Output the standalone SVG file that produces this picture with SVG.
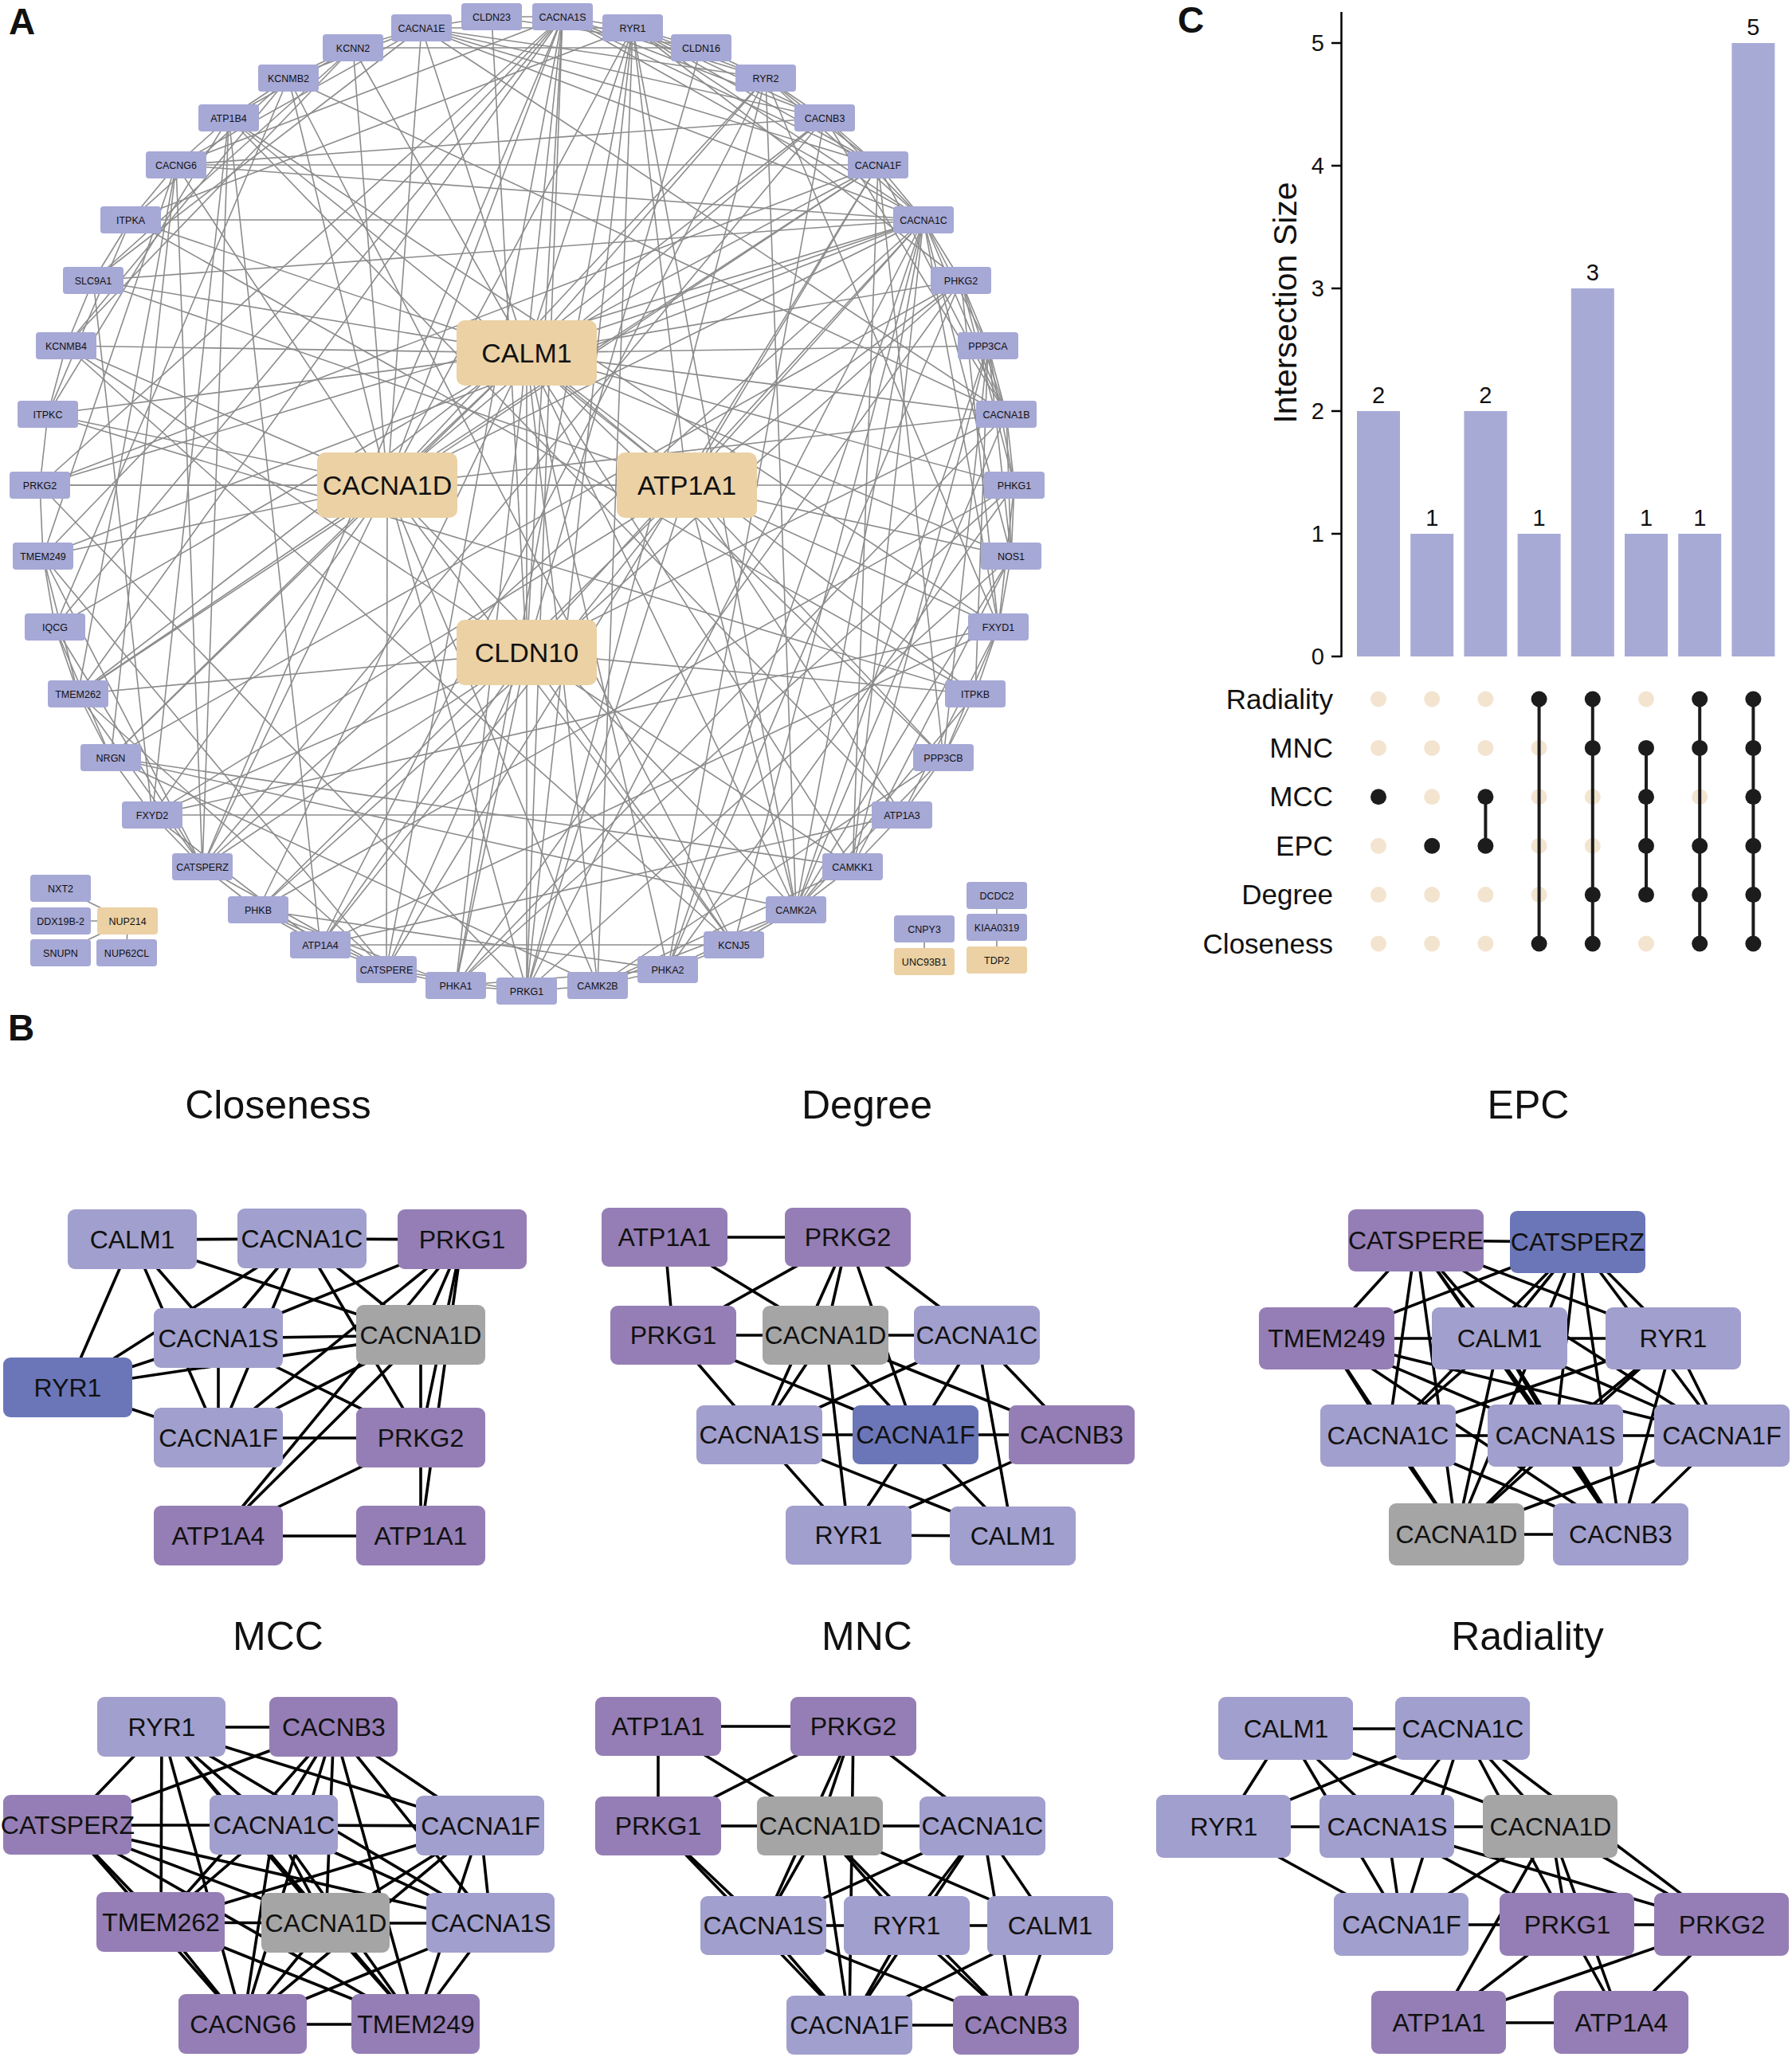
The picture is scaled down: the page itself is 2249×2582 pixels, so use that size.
<svg xmlns="http://www.w3.org/2000/svg" width="2249" height="2582" viewBox="0 0 2249 2582">
<style>
text{font-family:"Liberation Sans",Arial,Helvetica,sans-serif;fill:#111}
.ea line{stroke:#8c8c8c;stroke-width:1.6}
.eb line{stroke:#000;stroke-width:3.6}
.sn rect{fill:#a6a8d6}
.tn rect{fill:#ebd1a4}
.sn text,.tn text{font-size:12.5px;text-anchor:middle}
.bg text{font-size:34px;text-anchor:middle}
.bn text{font-size:32px;text-anchor:middle}
.lp{fill:#a19fcd}.pp{fill:#957eb5}.db{fill:#6b76b8}.gy{fill:#a5a5a5}
.ttl{font-size:50px;text-anchor:middle}
.pl{font-size:46px;font-weight:bold}
.tick{font-size:29px;text-anchor:end}
.val{font-size:29px;text-anchor:middle}
.row{font-size:35px;text-anchor:end}
.bar{fill:#a8aad6}
.ld{fill:#f3e4d0}.dd{fill:#1c1c1c}
.ml{stroke:#1c1c1c;stroke-width:4}
</style>
<rect width="2249" height="2582" fill="#fff"/>
<text class="pl" x="11" y="43">A</text>
<text class="pl" x="10" y="1306">B</text>
<text class="pl" x="1478" y="41">C</text>

<!-- Panel A connectors -->
<g id="connectors-A" class="ea">
<line x1="661" y1="443" x2="706" y2="21"/><line x1="661" y1="443" x2="794" y2="35"/><line x1="661" y1="443" x2="961" y2="98"/><line x1="661" y1="443" x2="1102" y2="207"/><line x1="661" y1="443" x2="1159" y2="276"/><line x1="661" y1="443" x2="1206" y2="352"/><line x1="661" y1="443" x2="1240" y2="434"/><line x1="661" y1="443" x2="1263" y2="520"/><line x1="661" y1="443" x2="1273" y2="609"/><line x1="661" y1="443" x2="1269" y2="698"/><line x1="661" y1="443" x2="1224" y2="871"/><line x1="661" y1="443" x2="1184" y2="951"/><line x1="661" y1="443" x2="1070" y2="1088"/><line x1="661" y1="443" x2="999" y2="1142"/><line x1="661" y1="443" x2="750" y2="1237"/><line x1="661" y1="443" x2="838" y2="1217"/><line x1="661" y1="443" x2="572" y2="1237"/><line x1="661" y1="443" x2="324" y2="1142"/><line x1="661" y1="443" x2="139" y2="951"/><line x1="661" y1="443" x2="69" y2="787"/><line x1="661" y1="443" x2="60" y2="520"/><line x1="661" y1="443" x2="164" y2="276"/><line x1="661" y1="443" x2="443" y2="60"/><line x1="661" y1="443" x2="529" y2="35"/><line x1="661" y1="443" x2="83" y2="434"/><line x1="661" y1="443" x2="117" y2="352"/><line x1="661" y1="443" x2="661" y2="1244"/><line x1="661" y1="443" x2="486" y2="609"/>
<line x1="486" y1="609" x2="706" y2="21"/><line x1="486" y1="609" x2="1102" y2="207"/><line x1="486" y1="609" x2="1159" y2="276"/><line x1="486" y1="609" x2="529" y2="35"/><line x1="486" y1="609" x2="1263" y2="520"/><line x1="486" y1="609" x2="1035" y2="148"/><line x1="486" y1="609" x2="221" y2="207"/><line x1="486" y1="609" x2="794" y2="35"/><line x1="486" y1="609" x2="961" y2="98"/><line x1="486" y1="609" x2="661" y2="1244"/><line x1="486" y1="609" x2="50" y2="609"/><line x1="486" y1="609" x2="485" y2="1217"/><line x1="486" y1="609" x2="254" y2="1088"/><line x1="486" y1="609" x2="54" y2="698"/><line x1="486" y1="609" x2="98" y2="871"/><line x1="486" y1="609" x2="443" y2="60"/><line x1="486" y1="609" x2="362" y2="98"/><line x1="486" y1="609" x2="83" y2="434"/><line x1="486" y1="609" x2="862" y2="609"/><line x1="486" y1="609" x2="999" y2="1142"/><line x1="486" y1="609" x2="750" y2="1237"/><line x1="486" y1="609" x2="191" y2="1023"/><line x1="486" y1="609" x2="60" y2="520"/><line x1="486" y1="609" x2="139" y2="951"/><line x1="486" y1="609" x2="921" y2="1186"/>
<line x1="862" y1="609" x2="1132" y2="1023"/><line x1="862" y1="609" x2="402" y2="1186"/><line x1="862" y1="609" x2="287" y2="148"/><line x1="862" y1="609" x2="1253" y2="787"/><line x1="862" y1="609" x2="191" y2="1023"/><line x1="862" y1="609" x2="117" y2="352"/><line x1="862" y1="609" x2="661" y2="443"/><line x1="862" y1="609" x2="1206" y2="352"/><line x1="862" y1="609" x2="1159" y2="276"/><line x1="862" y1="609" x2="1102" y2="207"/><line x1="862" y1="609" x2="794" y2="35"/><line x1="862" y1="609" x2="999" y2="1142"/><line x1="862" y1="609" x2="661" y2="1244"/><line x1="862" y1="609" x2="1269" y2="698"/><line x1="862" y1="609" x2="324" y2="1142"/><line x1="862" y1="609" x2="1184" y2="951"/>
<line x1="661" y1="819" x2="880" y2="60"/><line x1="661" y1="819" x2="617" y2="21"/><line x1="661" y1="819" x2="706" y2="21"/><line x1="661" y1="819" x2="1159" y2="276"/><line x1="661" y1="819" x2="191" y2="1023"/><line x1="661" y1="819" x2="402" y2="1186"/><line x1="661" y1="819" x2="572" y2="1237"/><line x1="661" y1="819" x2="921" y2="1186"/><line x1="661" y1="819" x2="1070" y2="1088"/><line x1="661" y1="819" x2="98" y2="871"/><line x1="661" y1="819" x2="485" y2="1217"/><line x1="661" y1="819" x2="1224" y2="871"/><line x1="661" y1="819" x2="254" y2="1088"/><line x1="661" y1="819" x2="83" y2="434"/><line x1="661" y1="819" x2="1263" y2="520"/>
<line x1="706" y1="21" x2="617" y2="21"/><line x1="706" y1="21" x2="794" y2="35"/><line x1="706" y1="21" x2="1102" y2="207"/><line x1="706" y1="21" x2="1159" y2="276"/><line x1="706" y1="21" x2="1035" y2="148"/><line x1="706" y1="21" x2="221" y2="207"/><line x1="706" y1="21" x2="961" y2="98"/><line x1="706" y1="21" x2="661" y2="1244"/><line x1="706" y1="21" x2="50" y2="609"/><line x1="706" y1="21" x2="485" y2="1217"/><line x1="706" y1="21" x2="254" y2="1088"/><line x1="706" y1="21" x2="54" y2="698"/><line x1="706" y1="21" x2="98" y2="871"/><line x1="706" y1="21" x2="69" y2="787"/>
<line x1="794" y1="35" x2="880" y2="60"/><line x1="794" y1="35" x2="961" y2="98"/><line x1="794" y1="35" x2="1035" y2="148"/><line x1="794" y1="35" x2="1102" y2="207"/><line x1="794" y1="35" x2="1159" y2="276"/><line x1="794" y1="35" x2="661" y2="1244"/><line x1="794" y1="35" x2="1206" y2="352"/><line x1="794" y1="35" x2="999" y2="1142"/><line x1="794" y1="35" x2="750" y2="1237"/><line x1="794" y1="35" x2="572" y2="1237"/><line x1="794" y1="35" x2="529" y2="35"/><line x1="794" y1="35" x2="164" y2="276"/>
<line x1="961" y1="98" x2="1035" y2="148"/><line x1="961" y1="98" x2="1102" y2="207"/><line x1="961" y1="98" x2="1159" y2="276"/><line x1="961" y1="98" x2="661" y2="1244"/><line x1="961" y1="98" x2="999" y2="1142"/><line x1="961" y1="98" x2="529" y2="35"/><line x1="961" y1="98" x2="1253" y2="787"/><line x1="961" y1="98" x2="880" y2="60"/><line x1="961" y1="98" x2="402" y2="1186"/>
<line x1="1035" y1="148" x2="1102" y2="207"/><line x1="1035" y1="148" x2="1159" y2="276"/><line x1="1035" y1="148" x2="1263" y2="520"/><line x1="1035" y1="148" x2="529" y2="35"/><line x1="1035" y1="148" x2="221" y2="207"/><line x1="1035" y1="148" x2="838" y2="1217"/><line x1="1035" y1="148" x2="98" y2="871"/><line x1="1035" y1="148" x2="254" y2="1088"/>
<line x1="1102" y1="207" x2="1159" y2="276"/><line x1="1102" y1="207" x2="1263" y2="520"/><line x1="1102" y1="207" x2="221" y2="207"/><line x1="1102" y1="207" x2="529" y2="35"/><line x1="1102" y1="207" x2="50" y2="609"/><line x1="1102" y1="207" x2="98" y2="871"/><line x1="1102" y1="207" x2="1070" y2="1088"/><line x1="1102" y1="207" x2="485" y2="1217"/><line x1="1102" y1="207" x2="1184" y2="951"/>
<line x1="1159" y1="276" x2="1263" y2="520"/><line x1="1159" y1="276" x2="1206" y2="352"/><line x1="1159" y1="276" x2="1240" y2="434"/><line x1="1159" y1="276" x2="529" y2="35"/><line x1="1159" y1="276" x2="221" y2="207"/><line x1="1159" y1="276" x2="661" y2="1244"/><line x1="1159" y1="276" x2="50" y2="609"/><line x1="1159" y1="276" x2="1269" y2="698"/><line x1="1159" y1="276" x2="1070" y2="1088"/><line x1="1159" y1="276" x2="999" y2="1142"/><line x1="1159" y1="276" x2="921" y2="1186"/><line x1="1159" y1="276" x2="117" y2="352"/><line x1="1159" y1="276" x2="164" y2="276"/><line x1="1159" y1="276" x2="54" y2="698"/><line x1="1159" y1="276" x2="254" y2="1088"/><line x1="1159" y1="276" x2="1253" y2="787"/><line x1="1159" y1="276" x2="838" y2="1217"/>
<line x1="1206" y1="352" x2="1240" y2="434"/><line x1="1206" y1="352" x2="1273" y2="609"/><line x1="1206" y1="352" x2="324" y2="1142"/><line x1="1206" y1="352" x2="572" y2="1237"/><line x1="1206" y1="352" x2="838" y2="1217"/><line x1="1206" y1="352" x2="1253" y2="787"/><line x1="1206" y1="352" x2="1263" y2="520"/><line x1="1206" y1="352" x2="139" y2="951"/>
<line x1="1240" y1="434" x2="1263" y2="520"/><line x1="1240" y1="434" x2="1184" y2="951"/><line x1="1240" y1="434" x2="1269" y2="698"/><line x1="1240" y1="434" x2="999" y2="1142"/><line x1="1240" y1="434" x2="1224" y2="871"/><line x1="1240" y1="434" x2="1273" y2="609"/><line x1="1240" y1="434" x2="1070" y2="1088"/>
<line x1="1263" y1="520" x2="1273" y2="609"/><line x1="1263" y1="520" x2="1269" y2="698"/><line x1="1263" y1="520" x2="999" y2="1142"/><line x1="1263" y1="520" x2="529" y2="35"/><line x1="1263" y1="520" x2="362" y2="98"/><line x1="1263" y1="520" x2="572" y2="1237"/>
<line x1="1273" y1="609" x2="1269" y2="698"/><line x1="1273" y1="609" x2="324" y2="1142"/><line x1="1273" y1="609" x2="572" y2="1237"/><line x1="1273" y1="609" x2="838" y2="1217"/><line x1="1273" y1="609" x2="1253" y2="787"/>
<line x1="1269" y1="698" x2="1253" y2="787"/><line x1="1269" y1="698" x2="999" y2="1142"/><line x1="1269" y1="698" x2="661" y2="1244"/><line x1="1269" y1="698" x2="1070" y2="1088"/>
<line x1="1253" y1="787" x2="1224" y2="871"/><line x1="1253" y1="787" x2="1132" y2="1023"/><line x1="1253" y1="787" x2="402" y2="1186"/><line x1="1253" y1="787" x2="287" y2="148"/><line x1="1253" y1="787" x2="191" y2="1023"/><line x1="1253" y1="787" x2="1184" y2="951"/>
<line x1="1224" y1="871" x2="1184" y2="951"/><line x1="1224" y1="871" x2="164" y2="276"/><line x1="1224" y1="871" x2="60" y2="520"/><line x1="1224" y1="871" x2="999" y2="1142"/>
<line x1="1184" y1="951" x2="1132" y2="1023"/><line x1="1184" y1="951" x2="999" y2="1142"/><line x1="1184" y1="951" x2="750" y2="1237"/>
<line x1="1132" y1="1023" x2="1070" y2="1088"/><line x1="1132" y1="1023" x2="402" y2="1186"/><line x1="1132" y1="1023" x2="287" y2="148"/><line x1="1132" y1="1023" x2="191" y2="1023"/>
<line x1="1070" y1="1088" x2="999" y2="1142"/><line x1="1070" y1="1088" x2="750" y2="1237"/><line x1="1070" y1="1088" x2="139" y2="951"/>
<line x1="999" y1="1142" x2="921" y2="1186"/><line x1="999" y1="1142" x2="750" y2="1237"/><line x1="999" y1="1142" x2="139" y2="951"/><line x1="999" y1="1142" x2="838" y2="1217"/>
<line x1="921" y1="1186" x2="838" y2="1217"/><line x1="921" y1="1186" x2="83" y2="434"/><line x1="921" y1="1186" x2="362" y2="98"/><line x1="921" y1="1186" x2="402" y2="1186"/>
<line x1="838" y1="1217" x2="750" y2="1237"/><line x1="838" y1="1217" x2="324" y2="1142"/><line x1="838" y1="1217" x2="572" y2="1237"/>
<line x1="750" y1="1237" x2="661" y2="1244"/><line x1="750" y1="1237" x2="139" y2="951"/>
<line x1="661" y1="1244" x2="572" y2="1237"/><line x1="661" y1="1244" x2="485" y2="1217"/><line x1="661" y1="1244" x2="50" y2="609"/>
<line x1="572" y1="1237" x2="485" y2="1217"/><line x1="572" y1="1237" x2="324" y2="1142"/>
<line x1="485" y1="1217" x2="402" y2="1186"/><line x1="485" y1="1217" x2="254" y2="1088"/><line x1="485" y1="1217" x2="54" y2="698"/><line x1="485" y1="1217" x2="98" y2="871"/><line x1="485" y1="1217" x2="324" y2="1142"/>
<line x1="402" y1="1186" x2="324" y2="1142"/><line x1="402" y1="1186" x2="191" y2="1023"/><line x1="402" y1="1186" x2="287" y2="148"/>
<line x1="324" y1="1142" x2="254" y2="1088"/>
<line x1="254" y1="1088" x2="191" y2="1023"/><line x1="254" y1="1088" x2="98" y2="871"/><line x1="254" y1="1088" x2="54" y2="698"/><line x1="254" y1="1088" x2="69" y2="787"/><line x1="254" y1="1088" x2="221" y2="207"/><line x1="254" y1="1088" x2="287" y2="148"/>
<line x1="191" y1="1023" x2="139" y2="951"/><line x1="191" y1="1023" x2="287" y2="148"/><line x1="191" y1="1023" x2="117" y2="352"/>
<line x1="139" y1="951" x2="98" y2="871"/><line x1="139" y1="951" x2="69" y2="787"/><line x1="139" y1="951" x2="221" y2="207"/>
<line x1="98" y1="871" x2="69" y2="787"/><line x1="98" y1="871" x2="54" y2="698"/><line x1="98" y1="871" x2="221" y2="207"/>
<line x1="69" y1="787" x2="54" y2="698"/><line x1="69" y1="787" x2="362" y2="98"/>
<line x1="54" y1="698" x2="50" y2="609"/><line x1="54" y1="698" x2="221" y2="207"/>
<line x1="50" y1="609" x2="60" y2="520"/><line x1="50" y1="609" x2="1273" y2="609"/>
<line x1="60" y1="520" x2="83" y2="434"/><line x1="60" y1="520" x2="164" y2="276"/><line x1="60" y1="520" x2="287" y2="148"/>
<line x1="83" y1="434" x2="117" y2="352"/><line x1="83" y1="434" x2="362" y2="98"/><line x1="83" y1="434" x2="443" y2="60"/>
<line x1="117" y1="352" x2="164" y2="276"/><line x1="117" y1="352" x2="443" y2="60"/><line x1="117" y1="352" x2="529" y2="35"/>
<line x1="164" y1="276" x2="221" y2="207"/><line x1="164" y1="276" x2="362" y2="98"/>
<line x1="221" y1="207" x2="287" y2="148"/><line x1="221" y1="207" x2="529" y2="35"/>
<line x1="287" y1="148" x2="362" y2="98"/><line x1="287" y1="148" x2="443" y2="60"/>
<line x1="362" y1="98" x2="443" y2="60"/><line x1="362" y1="98" x2="529" y2="35"/>
<line x1="443" y1="60" x2="529" y2="35"/><line x1="443" y1="60" x2="880" y2="60"/>
<line x1="617" y1="21" x2="880" y2="60"/><line x1="617" y1="21" x2="529" y2="35"/>
<line x1="160" y1="1156" x2="76" y2="1115"/><line x1="160" y1="1156" x2="76" y2="1156"/><line x1="160" y1="1156" x2="76" y2="1196"/><line x1="160" y1="1156" x2="159" y2="1196"/>
<line x1="1251" y1="1124" x2="1251" y2="1164"/><line x1="1251" y1="1164" x2="1251" y2="1205"/><line x1="1160" y1="1166" x2="1160" y2="1207"/>
</g>

<!-- Panel A nodes -->
<g id="A-nodes">
<g id="a-CLDN23" class="sn"><rect x="579" y="4" width="76" height="34" rx="4"/><text x="617" y="25.5">CLDN23</text></g>
<g id="a-CACNA1S" class="sn"><rect x="668" y="4" width="76" height="34" rx="4"/><text x="706" y="25.5">CACNA1S</text></g>
<g id="a-RYR1" class="sn"><rect x="756" y="18" width="76" height="34" rx="4"/><text x="794" y="39.5">RYR1</text></g>
<g id="a-CLDN16" class="sn"><rect x="842" y="43" width="76" height="34" rx="4"/><text x="880" y="64.5">CLDN16</text></g>
<g id="a-RYR2" class="sn"><rect x="923" y="81" width="76" height="34" rx="4"/><text x="961" y="102.5">RYR2</text></g>
<g id="a-CACNB3" class="sn"><rect x="997" y="131" width="76" height="34" rx="4"/><text x="1035" y="152.5">CACNB3</text></g>
<g id="a-CACNA1F" class="sn"><rect x="1064" y="190" width="76" height="34" rx="4"/><text x="1102" y="211.5">CACNA1F</text></g>
<g id="a-CACNA1C" class="sn"><rect x="1121" y="259" width="76" height="34" rx="4"/><text x="1159" y="280.5">CACNA1C</text></g>
<g id="a-PHKG2" class="sn"><rect x="1168" y="335" width="76" height="34" rx="4"/><text x="1206" y="356.5">PHKG2</text></g>
<g id="a-PPP3CA" class="sn"><rect x="1202" y="417" width="76" height="34" rx="4"/><text x="1240" y="438.5">PPP3CA</text></g>
<g id="a-CACNA1B" class="sn"><rect x="1225" y="503" width="76" height="34" rx="4"/><text x="1263" y="524.5">CACNA1B</text></g>
<g id="a-PHKG1" class="sn"><rect x="1235" y="592" width="76" height="34" rx="4"/><text x="1273" y="613.5">PHKG1</text></g>
<g id="a-NOS1" class="sn"><rect x="1231" y="681" width="76" height="34" rx="4"/><text x="1269" y="702.5">NOS1</text></g>
<g id="a-FXYD1" class="sn"><rect x="1215" y="770" width="76" height="34" rx="4"/><text x="1253" y="791.5">FXYD1</text></g>
<g id="a-ITPKB" class="sn"><rect x="1186" y="854" width="76" height="34" rx="4"/><text x="1224" y="875.5">ITPKB</text></g>
<g id="a-PPP3CB" class="sn"><rect x="1146" y="934" width="76" height="34" rx="4"/><text x="1184" y="955.5">PPP3CB</text></g>
<g id="a-ATP1A3" class="sn"><rect x="1094" y="1006" width="76" height="34" rx="4"/><text x="1132" y="1027.5">ATP1A3</text></g>
<g id="a-CAMKK1" class="sn"><rect x="1032" y="1071" width="76" height="34" rx="4"/><text x="1070" y="1092.5">CAMKK1</text></g>
<g id="a-CAMK2A" class="sn"><rect x="961" y="1125" width="76" height="34" rx="4"/><text x="999" y="1146.5">CAMK2A</text></g>
<g id="a-KCNJ5" class="sn"><rect x="883" y="1169" width="76" height="34" rx="4"/><text x="921" y="1190.5">KCNJ5</text></g>
<g id="a-PHKA2" class="sn"><rect x="800" y="1200" width="76" height="34" rx="4"/><text x="838" y="1221.5">PHKA2</text></g>
<g id="a-CAMK2B" class="sn"><rect x="712" y="1220" width="76" height="34" rx="4"/><text x="750" y="1241.5">CAMK2B</text></g>
<g id="a-PRKG1" class="sn"><rect x="623" y="1227" width="76" height="34" rx="4"/><text x="661" y="1248.5">PRKG1</text></g>
<g id="a-PHKA1" class="sn"><rect x="534" y="1220" width="76" height="34" rx="4"/><text x="572" y="1241.5">PHKA1</text></g>
<g id="a-CATSPERE" class="sn"><rect x="447" y="1200" width="76" height="34" rx="4"/><text x="485" y="1221.5">CATSPERE</text></g>
<g id="a-ATP1A4" class="sn"><rect x="364" y="1169" width="76" height="34" rx="4"/><text x="402" y="1190.5">ATP1A4</text></g>
<g id="a-PHKB" class="sn"><rect x="286" y="1125" width="76" height="34" rx="4"/><text x="324" y="1146.5">PHKB</text></g>
<g id="a-CATSPERZ" class="sn"><rect x="216" y="1071" width="76" height="34" rx="4"/><text x="254" y="1092.5">CATSPERZ</text></g>
<g id="a-FXYD2" class="sn"><rect x="153" y="1006" width="76" height="34" rx="4"/><text x="191" y="1027.5">FXYD2</text></g>
<g id="a-NRGN" class="sn"><rect x="101" y="934" width="76" height="34" rx="4"/><text x="139" y="955.5">NRGN</text></g>
<g id="a-TMEM262" class="sn"><rect x="60" y="854" width="76" height="34" rx="4"/><text x="98" y="875.5">TMEM262</text></g>
<g id="a-IQCG" class="sn"><rect x="31" y="770" width="76" height="34" rx="4"/><text x="69" y="791.5">IQCG</text></g>
<g id="a-TMEM249" class="sn"><rect x="16" y="681" width="76" height="34" rx="4"/><text x="54" y="702.5">TMEM249</text></g>
<g id="a-PRKG2" class="sn"><rect x="12" y="592" width="76" height="34" rx="4"/><text x="50" y="613.5">PRKG2</text></g>
<g id="a-ITPKC" class="sn"><rect x="22" y="503" width="76" height="34" rx="4"/><text x="60" y="524.5">ITPKC</text></g>
<g id="a-KCNMB4" class="sn"><rect x="45" y="417" width="76" height="34" rx="4"/><text x="83" y="438.5">KCNMB4</text></g>
<g id="a-SLC9A1" class="sn"><rect x="79" y="335" width="76" height="34" rx="4"/><text x="117" y="356.5">SLC9A1</text></g>
<g id="a-ITPKA" class="sn"><rect x="126" y="259" width="76" height="34" rx="4"/><text x="164" y="280.5">ITPKA</text></g>
<g id="a-CACNG6" class="sn"><rect x="183" y="190" width="76" height="34" rx="4"/><text x="221" y="211.5">CACNG6</text></g>
<g id="a-ATP1B4" class="sn"><rect x="249" y="131" width="76" height="34" rx="4"/><text x="287" y="152.5">ATP1B4</text></g>
<g id="a-KCNMB2" class="sn"><rect x="324" y="81" width="76" height="34" rx="4"/><text x="362" y="102.5">KCNMB2</text></g>
<g id="a-KCNN2" class="sn"><rect x="405" y="43" width="76" height="34" rx="4"/><text x="443" y="64.5">KCNN2</text></g>
<g id="a-CACNA1E" class="sn"><rect x="491" y="18" width="76" height="34" rx="4"/><text x="529" y="39.5">CACNA1E</text></g>
<g id="a-CALM1" class="tn bg"><rect x="573" y="402" width="176" height="82" rx="10"/><text x="661" y="455">CALM1</text></g>
<g id="a-CACNA1D" class="tn bg"><rect x="398" y="568" width="176" height="82" rx="10"/><text x="486" y="621">CACNA1D</text></g>
<g id="a-ATP1A1" class="tn bg"><rect x="774" y="568" width="176" height="82" rx="10"/><text x="862" y="621">ATP1A1</text></g>
<g id="a-CLDN10" class="tn bg"><rect x="573" y="778" width="176" height="82" rx="10"/><text x="661" y="831">CLDN10</text></g>
<g id="a-NXT2" class="sn"><rect x="38" y="1098" width="76" height="34" rx="4"/><text x="76" y="1119.5">NXT2</text></g>
<g id="a-DDX19B-2" class="sn"><rect x="38" y="1139" width="76" height="34" rx="4"/><text x="76" y="1160.5">DDX19B-2</text></g>
<g id="a-NUP214" class="tn"><rect x="122" y="1139" width="76" height="34" rx="4"/><text x="160" y="1160.5">NUP214</text></g>
<g id="a-SNUPN" class="sn"><rect x="38" y="1179" width="76" height="34" rx="4"/><text x="76" y="1200.5">SNUPN</text></g>
<g id="a-NUP62CL" class="sn"><rect x="121" y="1179" width="76" height="34" rx="4"/><text x="159" y="1200.5">NUP62CL</text></g>
<g id="a-DCDC2" class="sn"><rect x="1213" y="1107" width="76" height="34" rx="4"/><text x="1251" y="1128.5">DCDC2</text></g>
<g id="a-KIAA0319" class="sn"><rect x="1213" y="1147" width="76" height="34" rx="4"/><text x="1251" y="1168.5">KIAA0319</text></g>
<g id="a-TDP2" class="tn"><rect x="1213" y="1188" width="76" height="34" rx="4"/><text x="1251" y="1209.5">TDP2</text></g>
<g id="a-CNPY3" class="sn"><rect x="1122" y="1149" width="76" height="34" rx="4"/><text x="1160" y="1170.5">CNPY3</text></g>
<g id="a-UNC93B1" class="tn"><rect x="1122" y="1190" width="76" height="34" rx="4"/><text x="1160" y="1211.5">UNC93B1</text></g>
</g>

<!-- Panel B titles -->
<text class="ttl" x="349" y="1404">Closeness</text>
<text class="ttl" x="1088" y="1404">Degree</text>
<text class="ttl" x="1918" y="1404">EPC</text>
<text class="ttl" x="349" y="2071">MCC</text>
<text class="ttl" x="1088" y="2071">MNC</text>
<text class="ttl" x="1917" y="2071">Radiality</text>

<!-- Panel B connectors -->
<g id="connectors-B" class="eb">
<line x1="166" y1="1556" x2="379" y2="1555"/><line x1="379" y1="1555" x2="580" y2="1556"/><line x1="166" y1="1556" x2="85" y2="1742"/><line x1="166" y1="1556" x2="274" y2="1680"/><line x1="166" y1="1556" x2="274" y2="1805"/><line x1="166" y1="1556" x2="528" y2="1676"/><line x1="379" y1="1555" x2="85" y2="1742"/><line x1="379" y1="1555" x2="274" y2="1680"/><line x1="379" y1="1555" x2="274" y2="1805"/><line x1="379" y1="1555" x2="528" y2="1676"/><line x1="379" y1="1555" x2="528" y2="1805"/><line x1="580" y1="1556" x2="274" y2="1680"/><line x1="580" y1="1556" x2="528" y2="1676"/><line x1="580" y1="1556" x2="274" y2="1805"/><line x1="580" y1="1556" x2="528" y2="1805"/><line x1="580" y1="1556" x2="528" y2="1928"/><line x1="580" y1="1556" x2="274" y2="1928"/><line x1="274" y1="1680" x2="528" y2="1676"/><line x1="274" y1="1680" x2="274" y2="1805"/><line x1="274" y1="1680" x2="85" y2="1742"/><line x1="274" y1="1680" x2="528" y2="1805"/><line x1="85" y1="1742" x2="528" y2="1676"/><line x1="85" y1="1742" x2="274" y2="1805"/><line x1="528" y1="1676" x2="274" y2="1805"/><line x1="528" y1="1676" x2="528" y2="1805"/><line x1="274" y1="1805" x2="528" y2="1805"/><line x1="528" y1="1676" x2="274" y2="1928"/><line x1="274" y1="1928" x2="528" y2="1805"/><line x1="274" y1="1928" x2="528" y2="1928"/><line x1="528" y1="1805" x2="528" y2="1928"/>
<line x1="834" y1="1553" x2="1064" y2="1553"/><line x1="834" y1="1553" x2="845" y2="1676"/><line x1="834" y1="1553" x2="1036" y2="1676"/><line x1="1064" y1="1553" x2="845" y2="1676"/><line x1="1064" y1="1553" x2="953" y2="1801"/><line x1="1064" y1="1553" x2="1036" y2="1676"/><line x1="1064" y1="1553" x2="1149" y2="1801"/><line x1="1064" y1="1553" x2="1226" y2="1676"/><line x1="845" y1="1676" x2="1036" y2="1676"/><line x1="1036" y1="1676" x2="1226" y2="1676"/><line x1="845" y1="1676" x2="953" y2="1801"/><line x1="845" y1="1676" x2="1149" y2="1801"/><line x1="1036" y1="1676" x2="1345" y2="1801"/><line x1="1036" y1="1676" x2="953" y2="1801"/><line x1="1036" y1="1676" x2="1149" y2="1801"/><line x1="1036" y1="1676" x2="1065" y2="1927"/><line x1="1226" y1="1676" x2="953" y2="1801"/><line x1="1226" y1="1676" x2="1149" y2="1801"/><line x1="1226" y1="1676" x2="1271" y2="1928"/><line x1="1226" y1="1676" x2="1345" y2="1801"/><line x1="953" y1="1801" x2="1149" y2="1801"/><line x1="1149" y1="1801" x2="1345" y2="1801"/><line x1="953" y1="1801" x2="1065" y2="1927"/><line x1="953" y1="1801" x2="1271" y2="1928"/><line x1="1149" y1="1801" x2="1065" y2="1927"/><line x1="1149" y1="1801" x2="1271" y2="1928"/><line x1="1345" y1="1801" x2="1065" y2="1927"/><line x1="1065" y1="1927" x2="1271" y2="1928"/>
<line x1="1777" y1="1557" x2="1980" y2="1559"/><line x1="1777" y1="1557" x2="1665" y2="1680"/><line x1="1777" y1="1557" x2="1882" y2="1680"/><line x1="1777" y1="1557" x2="2100" y2="1680"/><line x1="1777" y1="1557" x2="1742" y2="1802"/><line x1="1777" y1="1557" x2="1952" y2="1802"/><line x1="1777" y1="1557" x2="2161" y2="1802"/><line x1="1777" y1="1557" x2="1828" y2="1926"/><line x1="1777" y1="1557" x2="2034" y2="1926"/><line x1="1980" y1="1559" x2="1665" y2="1680"/><line x1="1980" y1="1559" x2="1882" y2="1680"/><line x1="1980" y1="1559" x2="2100" y2="1680"/><line x1="1980" y1="1559" x2="1742" y2="1802"/><line x1="1980" y1="1559" x2="1952" y2="1802"/><line x1="1980" y1="1559" x2="2161" y2="1802"/><line x1="1980" y1="1559" x2="1828" y2="1926"/><line x1="1980" y1="1559" x2="2034" y2="1926"/><line x1="1665" y1="1680" x2="1882" y2="1680"/><line x1="1665" y1="1680" x2="1742" y2="1802"/><line x1="1665" y1="1680" x2="1952" y2="1802"/><line x1="1665" y1="1680" x2="2161" y2="1802"/><line x1="1665" y1="1680" x2="1828" y2="1926"/><line x1="1665" y1="1680" x2="2034" y2="1926"/><line x1="1882" y1="1680" x2="2100" y2="1680"/><line x1="1882" y1="1680" x2="1742" y2="1802"/><line x1="1882" y1="1680" x2="1952" y2="1802"/><line x1="1882" y1="1680" x2="2161" y2="1802"/><line x1="1882" y1="1680" x2="1828" y2="1926"/><line x1="1882" y1="1680" x2="2034" y2="1926"/><line x1="2100" y1="1680" x2="1742" y2="1802"/><line x1="2100" y1="1680" x2="1952" y2="1802"/><line x1="2100" y1="1680" x2="2161" y2="1802"/><line x1="2100" y1="1680" x2="1828" y2="1926"/><line x1="2100" y1="1680" x2="2034" y2="1926"/><line x1="1742" y1="1802" x2="1952" y2="1802"/><line x1="1742" y1="1802" x2="1828" y2="1926"/><line x1="1742" y1="1802" x2="2034" y2="1926"/><line x1="1952" y1="1802" x2="2161" y2="1802"/><line x1="1952" y1="1802" x2="1828" y2="1926"/><line x1="1952" y1="1802" x2="2034" y2="1926"/><line x1="2161" y1="1802" x2="1828" y2="1926"/><line x1="2161" y1="1802" x2="2034" y2="1926"/><line x1="1828" y1="1926" x2="2034" y2="1926"/>
<line x1="203" y1="2168" x2="419" y2="2168"/><line x1="203" y1="2168" x2="85" y2="2291"/><line x1="203" y1="2168" x2="344" y2="2291"/><line x1="203" y1="2168" x2="603" y2="2292"/><line x1="203" y1="2168" x2="202" y2="2413"/><line x1="203" y1="2168" x2="409" y2="2414"/><line x1="203" y1="2168" x2="616" y2="2414"/><line x1="203" y1="2168" x2="305" y2="2541"/><line x1="203" y1="2168" x2="522" y2="2541"/><line x1="419" y1="2168" x2="85" y2="2291"/><line x1="419" y1="2168" x2="344" y2="2291"/><line x1="419" y1="2168" x2="603" y2="2292"/><line x1="419" y1="2168" x2="202" y2="2413"/><line x1="419" y1="2168" x2="409" y2="2414"/><line x1="419" y1="2168" x2="616" y2="2414"/><line x1="419" y1="2168" x2="305" y2="2541"/><line x1="419" y1="2168" x2="522" y2="2541"/><line x1="85" y1="2291" x2="344" y2="2291"/><line x1="85" y1="2291" x2="202" y2="2413"/><line x1="85" y1="2291" x2="409" y2="2414"/><line x1="85" y1="2291" x2="616" y2="2414"/><line x1="85" y1="2291" x2="305" y2="2541"/><line x1="85" y1="2291" x2="522" y2="2541"/><line x1="344" y1="2291" x2="603" y2="2292"/><line x1="344" y1="2291" x2="202" y2="2413"/><line x1="344" y1="2291" x2="409" y2="2414"/><line x1="344" y1="2291" x2="616" y2="2414"/><line x1="344" y1="2291" x2="305" y2="2541"/><line x1="344" y1="2291" x2="522" y2="2541"/><line x1="603" y1="2292" x2="202" y2="2413"/><line x1="603" y1="2292" x2="409" y2="2414"/><line x1="603" y1="2292" x2="616" y2="2414"/><line x1="603" y1="2292" x2="305" y2="2541"/><line x1="603" y1="2292" x2="522" y2="2541"/><line x1="202" y1="2413" x2="409" y2="2414"/><line x1="202" y1="2413" x2="305" y2="2541"/><line x1="202" y1="2413" x2="522" y2="2541"/><line x1="409" y1="2414" x2="616" y2="2414"/><line x1="409" y1="2414" x2="305" y2="2541"/><line x1="409" y1="2414" x2="522" y2="2541"/><line x1="616" y1="2414" x2="305" y2="2541"/><line x1="616" y1="2414" x2="522" y2="2541"/><line x1="305" y1="2541" x2="522" y2="2541"/>
<line x1="826" y1="2167" x2="1071" y2="2167"/><line x1="826" y1="2167" x2="826" y2="2292"/><line x1="826" y1="2167" x2="1029" y2="2292"/><line x1="1071" y1="2167" x2="826" y2="2292"/><line x1="1071" y1="2167" x2="1029" y2="2292"/><line x1="1071" y1="2167" x2="958" y2="2417"/><line x1="1071" y1="2167" x2="1066" y2="2542"/><line x1="1071" y1="2167" x2="1233" y2="2292"/><line x1="826" y1="2292" x2="1029" y2="2292"/><line x1="1029" y1="2292" x2="1233" y2="2292"/><line x1="826" y1="2292" x2="958" y2="2417"/><line x1="826" y1="2292" x2="1066" y2="2542"/><line x1="1029" y1="2292" x2="958" y2="2417"/><line x1="1029" y1="2292" x2="1066" y2="2542"/><line x1="1029" y1="2292" x2="1138" y2="2417"/><line x1="1029" y1="2292" x2="1318" y2="2417"/><line x1="1029" y1="2292" x2="1275" y2="2542"/><line x1="1233" y1="2292" x2="958" y2="2417"/><line x1="1233" y1="2292" x2="1138" y2="2417"/><line x1="1233" y1="2292" x2="1066" y2="2542"/><line x1="1233" y1="2292" x2="1318" y2="2417"/><line x1="1233" y1="2292" x2="1275" y2="2542"/><line x1="958" y1="2417" x2="1138" y2="2417"/><line x1="1138" y1="2417" x2="1318" y2="2417"/><line x1="958" y1="2417" x2="1066" y2="2542"/><line x1="958" y1="2417" x2="1275" y2="2542"/><line x1="1138" y1="2417" x2="1066" y2="2542"/><line x1="1138" y1="2417" x2="1275" y2="2542"/><line x1="1318" y1="2417" x2="1066" y2="2542"/><line x1="1318" y1="2417" x2="1275" y2="2542"/><line x1="1066" y1="2542" x2="1275" y2="2542"/>
<line x1="1614" y1="2170" x2="1836" y2="2170"/><line x1="1614" y1="2170" x2="1536" y2="2293"/><line x1="1614" y1="2170" x2="1741" y2="2293"/><line x1="1614" y1="2170" x2="1759" y2="2416"/><line x1="1614" y1="2170" x2="1946" y2="2293"/><line x1="1836" y1="2170" x2="1536" y2="2293"/><line x1="1836" y1="2170" x2="1741" y2="2293"/><line x1="1836" y1="2170" x2="1759" y2="2416"/><line x1="1836" y1="2170" x2="1946" y2="2293"/><line x1="1836" y1="2170" x2="1967" y2="2416"/><line x1="1836" y1="2170" x2="2161" y2="2416"/><line x1="1536" y1="2293" x2="1741" y2="2293"/><line x1="1741" y1="2293" x2="1946" y2="2293"/><line x1="1536" y1="2293" x2="1759" y2="2416"/><line x1="1741" y1="2293" x2="1759" y2="2416"/><line x1="1741" y1="2293" x2="1967" y2="2416"/><line x1="1741" y1="2293" x2="2161" y2="2416"/><line x1="1946" y1="2293" x2="1759" y2="2416"/><line x1="1946" y1="2293" x2="1967" y2="2416"/><line x1="1946" y1="2293" x2="2161" y2="2416"/><line x1="1946" y1="2293" x2="2035" y2="2539"/><line x1="1946" y1="2293" x2="1806" y2="2539"/><line x1="1759" y1="2416" x2="1967" y2="2416"/><line x1="1967" y1="2416" x2="2161" y2="2416"/><line x1="1967" y1="2416" x2="1806" y2="2539"/><line x1="1967" y1="2416" x2="2035" y2="2539"/><line x1="2161" y1="2416" x2="1806" y2="2539"/><line x1="2161" y1="2416" x2="2035" y2="2539"/><line x1="1806" y1="2539" x2="2035" y2="2539"/>
</g>

<!-- Panel B nodes -->
<g id="B-closeness" class="bn">
<g id="cl-CALM1"><rect class="lp" x="85" y="1518" width="162" height="75" rx="9"/><text x="166" y="1567">CALM1</text></g>
<g id="cl-CACNA1C"><rect class="lp" x="298" y="1517" width="162" height="75" rx="9"/><text x="379" y="1566">CACNA1C</text></g>
<g id="cl-PRKG1"><rect class="pp" x="499" y="1518" width="162" height="75" rx="9"/><text x="580" y="1567">PRKG1</text></g>
<g id="cl-CACNA1S"><rect class="lp" x="193" y="1642" width="162" height="75" rx="9"/><text x="274" y="1691">CACNA1S</text></g>
<g id="cl-CACNA1D"><rect class="gy" x="447" y="1638" width="162" height="75" rx="9"/><text x="528" y="1687">CACNA1D</text></g>
<g id="cl-RYR1"><rect class="db" x="4" y="1704" width="162" height="75" rx="9"/><text x="85" y="1753">RYR1</text></g>
<g id="cl-CACNA1F"><rect class="lp" x="193" y="1767" width="162" height="75" rx="9"/><text x="274" y="1816">CACNA1F</text></g>
<g id="cl-PRKG2"><rect class="pp" x="447" y="1767" width="162" height="75" rx="9"/><text x="528" y="1816">PRKG2</text></g>
<g id="cl-ATP1A4"><rect class="pp" x="193" y="1890" width="162" height="75" rx="9"/><text x="274" y="1939">ATP1A4</text></g>
<g id="cl-ATP1A1"><rect class="pp" x="447" y="1890" width="162" height="75" rx="9"/><text x="528" y="1939">ATP1A1</text></g>
</g>
<g id="B-degree" class="bn">
<g id="dg-ATP1A1"><rect class="pp" x="755" y="1516" width="158" height="74" rx="9"/><text x="834" y="1564">ATP1A1</text></g>
<g id="dg-PRKG2"><rect class="pp" x="985" y="1516" width="158" height="74" rx="9"/><text x="1064" y="1564">PRKG2</text></g>
<g id="dg-PRKG1"><rect class="pp" x="766" y="1639" width="158" height="74" rx="9"/><text x="845" y="1687">PRKG1</text></g>
<g id="dg-CACNA1D"><rect class="gy" x="957" y="1639" width="158" height="74" rx="9"/><text x="1036" y="1687">CACNA1D</text></g>
<g id="dg-CACNA1C"><rect class="lp" x="1147" y="1639" width="158" height="74" rx="9"/><text x="1226" y="1687">CACNA1C</text></g>
<g id="dg-CACNA1S"><rect class="lp" x="874" y="1764" width="158" height="74" rx="9"/><text x="953" y="1812">CACNA1S</text></g>
<g id="dg-CACNA1F"><rect class="db" x="1070" y="1764" width="158" height="74" rx="9"/><text x="1149" y="1812">CACNA1F</text></g>
<g id="dg-CACNB3"><rect class="pp" x="1266" y="1764" width="158" height="74" rx="9"/><text x="1345" y="1812">CACNB3</text></g>
<g id="dg-RYR1"><rect class="lp" x="986" y="1890" width="158" height="74" rx="9"/><text x="1065" y="1938">RYR1</text></g>
<g id="dg-CALM1"><rect class="lp" x="1192" y="1891" width="158" height="74" rx="9"/><text x="1271" y="1939">CALM1</text></g>
</g>
<g id="B-epc" class="bn">
<g id="ep-CATSPERE"><rect class="pp" x="1692" y="1518" width="170" height="78" rx="9"/><text x="1777" y="1568">CATSPERE</text></g>
<g id="ep-CATSPERZ"><rect class="db" x="1895" y="1520" width="170" height="78" rx="9"/><text x="1980" y="1570">CATSPERZ</text></g>
<g id="ep-TMEM249"><rect class="pp" x="1580" y="1641" width="170" height="78" rx="9"/><text x="1665" y="1691">TMEM249</text></g>
<g id="ep-CALM1"><rect class="lp" x="1797" y="1641" width="170" height="78" rx="9"/><text x="1882" y="1691">CALM1</text></g>
<g id="ep-RYR1"><rect class="lp" x="2015" y="1641" width="170" height="78" rx="9"/><text x="2100" y="1691">RYR1</text></g>
<g id="ep-CACNA1C"><rect class="lp" x="1657" y="1763" width="170" height="78" rx="9"/><text x="1742" y="1813">CACNA1C</text></g>
<g id="ep-CACNA1S"><rect class="lp" x="1867" y="1763" width="170" height="78" rx="9"/><text x="1952" y="1813">CACNA1S</text></g>
<g id="ep-CACNA1F"><rect class="lp" x="2076" y="1763" width="170" height="78" rx="9"/><text x="2161" y="1813">CACNA1F</text></g>
<g id="ep-CACNA1D"><rect class="gy" x="1743" y="1887" width="170" height="78" rx="9"/><text x="1828" y="1937">CACNA1D</text></g>
<g id="ep-CACNB3"><rect class="lp" x="1949" y="1887" width="170" height="78" rx="9"/><text x="2034" y="1937">CACNB3</text></g>
</g>
<g id="B-mcc" class="bn">
<g id="mc-RYR1"><rect class="lp" x="122" y="2130" width="161" height="75" rx="9"/><text x="203" y="2179">RYR1</text></g>
<g id="mc-CACNB3"><rect class="pp" x="338" y="2130" width="161" height="75" rx="9"/><text x="419" y="2179">CACNB3</text></g>
<g id="mc-CATSPERZ"><rect class="pp" x="4" y="2253" width="161" height="75" rx="9"/><text x="85" y="2302">CATSPERZ</text></g>
<g id="mc-CACNA1C"><rect class="lp" x="263" y="2253" width="161" height="75" rx="9"/><text x="344" y="2302">CACNA1C</text></g>
<g id="mc-CACNA1F"><rect class="lp" x="522" y="2254" width="161" height="75" rx="9"/><text x="603" y="2303">CACNA1F</text></g>
<g id="mc-TMEM262"><rect class="pp" x="121" y="2375" width="161" height="75" rx="9"/><text x="202" y="2424">TMEM262</text></g>
<g id="mc-CACNA1D"><rect class="gy" x="328" y="2376" width="161" height="75" rx="9"/><text x="409" y="2425">CACNA1D</text></g>
<g id="mc-CACNA1S"><rect class="lp" x="535" y="2376" width="161" height="75" rx="9"/><text x="616" y="2425">CACNA1S</text></g>
<g id="mc-CACNG6"><rect class="pp" x="224" y="2503" width="161" height="75" rx="9"/><text x="305" y="2552">CACNG6</text></g>
<g id="mc-TMEM249"><rect class="pp" x="441" y="2503" width="161" height="75" rx="9"/><text x="522" y="2552">TMEM249</text></g>
</g>
<g id="B-mnc" class="bn">
<g id="mn-ATP1A1"><rect class="pp" x="747" y="2130" width="158" height="74" rx="9"/><text x="826" y="2178">ATP1A1</text></g>
<g id="mn-PRKG2"><rect class="pp" x="992" y="2130" width="158" height="74" rx="9"/><text x="1071" y="2178">PRKG2</text></g>
<g id="mn-PRKG1"><rect class="pp" x="747" y="2255" width="158" height="74" rx="9"/><text x="826" y="2303">PRKG1</text></g>
<g id="mn-CACNA1D"><rect class="gy" x="950" y="2255" width="158" height="74" rx="9"/><text x="1029" y="2303">CACNA1D</text></g>
<g id="mn-CACNA1C"><rect class="lp" x="1154" y="2255" width="158" height="74" rx="9"/><text x="1233" y="2303">CACNA1C</text></g>
<g id="mn-CACNA1S"><rect class="lp" x="879" y="2380" width="158" height="74" rx="9"/><text x="958" y="2428">CACNA1S</text></g>
<g id="mn-RYR1"><rect class="lp" x="1059" y="2380" width="158" height="74" rx="9"/><text x="1138" y="2428">RYR1</text></g>
<g id="mn-CALM1"><rect class="lp" x="1239" y="2380" width="158" height="74" rx="9"/><text x="1318" y="2428">CALM1</text></g>
<g id="mn-CACNA1F"><rect class="lp" x="987" y="2505" width="158" height="74" rx="9"/><text x="1066" y="2553">CACNA1F</text></g>
<g id="mn-CACNB3"><rect class="pp" x="1196" y="2505" width="158" height="74" rx="9"/><text x="1275" y="2553">CACNB3</text></g>
</g>
<g id="B-radiality" class="bn">
<g id="ra-CALM1"><rect class="lp" x="1529" y="2130" width="169" height="79" rx="9"/><text x="1614" y="2181">CALM1</text></g>
<g id="ra-CACNA1C"><rect class="lp" x="1751" y="2130" width="169" height="79" rx="9"/><text x="1836" y="2181">CACNA1C</text></g>
<g id="ra-RYR1"><rect class="lp" x="1451" y="2253" width="169" height="79" rx="9"/><text x="1536" y="2304">RYR1</text></g>
<g id="ra-CACNA1S"><rect class="lp" x="1656" y="2253" width="169" height="79" rx="9"/><text x="1741" y="2304">CACNA1S</text></g>
<g id="ra-CACNA1D"><rect class="gy" x="1861" y="2253" width="169" height="79" rx="9"/><text x="1946" y="2304">CACNA1D</text></g>
<g id="ra-CACNA1F"><rect class="lp" x="1674" y="2376" width="169" height="79" rx="9"/><text x="1759" y="2427">CACNA1F</text></g>
<g id="ra-PRKG1"><rect class="pp" x="1882" y="2376" width="169" height="79" rx="9"/><text x="1967" y="2427">PRKG1</text></g>
<g id="ra-PRKG2"><rect class="pp" x="2076" y="2376" width="169" height="79" rx="9"/><text x="2161" y="2427">PRKG2</text></g>
<g id="ra-ATP1A1"><rect class="pp" x="1721" y="2499" width="169" height="79" rx="9"/><text x="1806" y="2550">ATP1A1</text></g>
<g id="ra-ATP1A4"><rect class="pp" x="1950" y="2499" width="169" height="79" rx="9"/><text x="2035" y="2550">ATP1A4</text></g>
</g>

<!-- Panel C -->
<g id="C-chart">
<line x1="1683.5" y1="15" x2="1683.5" y2="825" stroke="#000" stroke-width="2.5"/>
<g stroke="#000" stroke-width="2.5">
<line x1="1671" y1="54" x2="1683" y2="54"/><line x1="1671" y1="208" x2="1683" y2="208"/><line x1="1671" y1="362" x2="1683" y2="362"/><line x1="1671" y1="516" x2="1683" y2="516"/><line x1="1671" y1="670" x2="1683" y2="670"/><line x1="1671" y1="824" x2="1683" y2="824"/>
</g>
<text class="tick" x="1662" y="64">5</text><text class="tick" x="1662" y="218">4</text><text class="tick" x="1662" y="372">3</text><text class="tick" x="1662" y="526">2</text><text class="tick" x="1662" y="680">1</text><text class="tick" x="1662" y="834">0</text>
<text x="0" y="0" font-size="41" text-anchor="middle" transform="translate(1627,380) rotate(-90)">Intersection Size</text>
<rect class="bar" x="1703" y="516" width="54" height="308"/>
<rect class="bar" x="1770.2" y="670" width="54" height="154"/>
<rect class="bar" x="1837.4" y="516" width="54" height="308"/>
<rect class="bar" x="1904.6" y="670" width="54" height="154"/>
<rect class="bar" x="1971.8" y="362" width="54" height="462"/>
<rect class="bar" x="2039" y="670" width="54" height="154"/>
<rect class="bar" x="2106.2" y="670" width="54" height="154"/>
<rect class="bar" x="2173.4" y="54" width="54" height="770"/>
<text class="val" x="1730" y="506">2</text><text class="val" x="1797.2" y="660">1</text><text class="val" x="1864.4" y="506">2</text><text class="val" x="1931.6" y="660">1</text><text class="val" x="1998.8" y="352">3</text><text class="val" x="2066" y="660">1</text><text class="val" x="2133.2" y="660">1</text><text class="val" x="2200.4" y="44">5</text>
<text class="row" x="1673" y="890">Radiality</text>
<text class="row" x="1673" y="951">MNC</text>
<text class="row" x="1673" y="1012">MCC</text>
<text class="row" x="1673" y="1074">EPC</text>
<text class="row" x="1673" y="1135">Degree</text>
<text class="row" x="1673" y="1197">Closeness</text>
<g class="ld">
<circle cx="1730" cy="877.5" r="10"/><circle cx="1730" cy="938.9" r="10"/><circle cx="1730" cy="1061.7" r="10"/><circle cx="1730" cy="1123.1" r="10"/><circle cx="1730" cy="1184.5" r="10"/>
<circle cx="1797.2" cy="877.5" r="10"/><circle cx="1797.2" cy="938.9" r="10"/><circle cx="1797.2" cy="1000.3" r="10"/><circle cx="1797.2" cy="1123.1" r="10"/><circle cx="1797.2" cy="1184.5" r="10"/>
<circle cx="1864.4" cy="877.5" r="10"/><circle cx="1864.4" cy="938.9" r="10"/><circle cx="1864.4" cy="1123.1" r="10"/><circle cx="1864.4" cy="1184.5" r="10"/>
<circle cx="1931.6" cy="938.9" r="10"/><circle cx="1931.6" cy="1000.3" r="10"/><circle cx="1931.6" cy="1061.7" r="10"/><circle cx="1931.6" cy="1123.1" r="10"/>
<circle cx="1998.8" cy="1000.3" r="10"/><circle cx="1998.8" cy="1061.7" r="10"/>
<circle cx="2066" cy="877.5" r="10"/><circle cx="2066" cy="1184.5" r="10"/>
<circle cx="2133.2" cy="1000.3" r="10"/>
</g>
<g class="ml">
<line x1="1864.4" y1="1000.3" x2="1864.4" y2="1061.7"/>
<line x1="1931.6" y1="877.5" x2="1931.6" y2="1184.5"/>
<line x1="1998.8" y1="877.5" x2="1998.8" y2="1184.5"/>
<line x1="2066" y1="938.9" x2="2066" y2="1123.1"/>
<line x1="2133.2" y1="877.5" x2="2133.2" y2="1184.5"/>
<line x1="2200.4" y1="877.5" x2="2200.4" y2="1184.5"/>
</g>
<g class="dd">
<circle cx="1730" cy="1000.3" r="10"/>
<circle cx="1797.2" cy="1061.7" r="10"/>
<circle cx="1864.4" cy="1000.3" r="10"/><circle cx="1864.4" cy="1061.7" r="10"/>
<circle cx="1931.6" cy="877.5" r="10"/><circle cx="1931.6" cy="1184.5" r="10"/>
<circle cx="1998.8" cy="877.5" r="10"/><circle cx="1998.8" cy="938.9" r="10"/><circle cx="1998.8" cy="1123.1" r="10"/><circle cx="1998.8" cy="1184.5" r="10"/>
<circle cx="2066" cy="938.9" r="10"/><circle cx="2066" cy="1000.3" r="10"/><circle cx="2066" cy="1061.7" r="10"/><circle cx="2066" cy="1123.1" r="10"/>
<circle cx="2133.2" cy="877.5" r="10"/><circle cx="2133.2" cy="938.9" r="10"/><circle cx="2133.2" cy="1061.7" r="10"/><circle cx="2133.2" cy="1123.1" r="10"/><circle cx="2133.2" cy="1184.5" r="10"/>
<circle cx="2200.4" cy="877.5" r="10"/><circle cx="2200.4" cy="938.9" r="10"/><circle cx="2200.4" cy="1000.3" r="10"/><circle cx="2200.4" cy="1061.7" r="10"/><circle cx="2200.4" cy="1123.1" r="10"/><circle cx="2200.4" cy="1184.5" r="10"/>
</g>
</g>
</svg>
